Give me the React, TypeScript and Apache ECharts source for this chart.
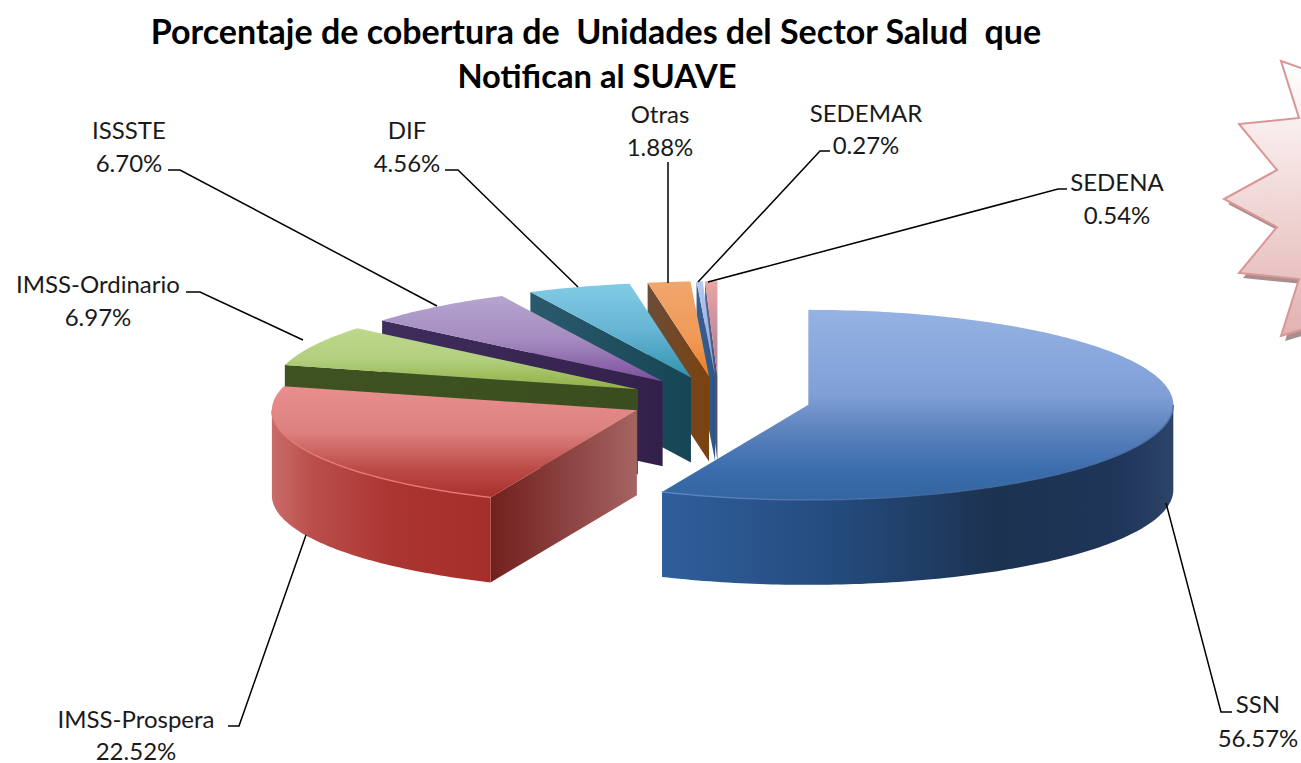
import React, { useEffect, useRef } from "react";
import * as echarts from "echarts";

const titleLines = ["Porcentaje de cobertura de  Unidades del Sector Salud  que", "Notifican al SUAVE"];
const categories = ["SSN", "IMSS-Prospera", "IMSS-Ordinario", "ISSSTE", "DIF", "Otras", "SEDEMAR", "SEDENA"];
const values = [56.57, 22.52, 6.97, 6.7, 4.56, 1.88, 0.27, 0.54];

// Drawing styles, one per slice
const topStops = [
  [[0, "#96b2e4"], [0.45, "#7f9fd6"], [0.62, "#5f84be"], [0.85, "#3a6cac"], [1, "#33659f"]],
  [[0, "#e88e8c"], [0.4, "#dd8280"], [0.75, "#bc4a47"], [1, "#a92f2b"]],
  [[0, "#bcd88c"], [0.5, "#b2d07f"], [1, "#8fb045"]],
  [[0, "#b5a5d0"], [0.5, "#a68cc0"], [1, "#7b4f9c"]],
  [[0, "#82cbe6"], [0.5, "#66b5d3"], [1, "#2f93b0"]],
  [[0, "#f0a66c"], [0.6, "#f09a58"], [1, "#ee7d24"]],
  [[0, "#b4ccf2"], [1, "#7f9fd8"]],
  [[0, "#e8a5a2"], [1, "#a87a9a"]],
];
const wallStops = [
  [[0, "#2f5f9c"], [0.35, "#244a7c"], [0.65, "#1c3250"], [0.9, "#20365a"], [1, "#2c4468"]],
  [[0, "#c96c6a"], [0.2, "#b94d4a"], [0.55, "#ab3531"], [1, "#a62e2a"]],
];
const cutStops = [
  null,
  [[0, "#72201e"], [0.4, "#853a38"], [1, "#a56462"]],
  [[0, "#3f5322"], [1, "#3a4d1e"]],
  [[0, "#3f2d5c"], [1, "#33204a"]],
  [[0, "#2a5a6c"], [1, "#164555"]],
  [[0, "#6b4c38"], [1, "#7c420e"]],
  [[0, "#3a5f90"], [1, "#2f5588"]],
  [[0, "#66608a"], [1, "#4a5268"]],
];
const rimStops = [
  [[0, "#5e86c4"], [0.5, "#3f659c"], [1, "#4a6ea6"]],
  [[0, "#e67a76"], [1, "#e67a76"]],
];

// Leader lines and label anchors
const leaderPaths = [
  [[1166, 503], [1221, 712], [1232, 712]],
  [[306, 535], [239, 726], [228, 726]],
  [[303, 340], [200, 292], [186, 292]],
  [[437, 306], [180, 170], [168, 170]],
  [[578, 287], [458, 170], [445, 170]],
  [[668, 283], [668, 162]],
  [[698, 282], [820, 151], [830, 151]],
  [[708, 282], [1058, 189], [1067, 189]],
];
const labelAnchors = [
  [1258, 703, 737],
  [136, 718, 750],
  [98, 283, 316],
  [129, 129, 162],
  [407, 129, 162],
  [660, 113, 146],
  [866, 112, 144],
  [1117, 181, 214],
];

const CX = 719;
const CY = 400;
const RX = 365;
const RY = 95;
const DEPTH = 85;
const EXPLODE = 0.25;
const FONT = "Lato";

const total = values.reduce((a, b) => a + b, 0);
const rad = (d: number) => (d * Math.PI) / 180;

function sliceGeometry(i: number) {
  let start = 0;
  for (let k = 0; k < i; k++) start += (values[k] / total) * 360;
  const end = start + (values[i] / total) * 360;
  const mid = rad((start + end) / 2);
  const ax = CX + EXPLODE * RX * Math.sin(mid);
  const ay = CY - EXPLODE * RY * Math.cos(mid);
  const pt = (deg: number, drop = 0) => [ax + RX * Math.sin(rad(deg)), ay - RY * Math.cos(rad(deg)) + drop];
  return { start, end, ax, ay, pt };
}

function arc(pt: (d: number, drop?: number) => number[], a: number, b: number, drop = 0) {
  const n = Math.max(2, Math.ceil(Math.abs(b - a)));
  const out: number[][] = [];
  for (let j = 0; j <= n; j++) out.push(pt(a + ((b - a) * j) / n, drop));
  return out;
}

const grad = (x2: number, y2: number, stops: any) =>
  new echarts.graphic.LinearGradient(0, 0, x2, y2, stops.map((s: any) => ({ offset: s[0], color: s[1] })));

function renderSlice(params: any) {
  const i = values.length - 1 - params.dataIndex;
  const { start, end, ax, ay, pt } = sliceGeometry(i);
  const children: any[] = [];

  // cut face on the start edge, only when it faces the viewer
  if (cutStops[i]) {
    const p = pt(start);
    children.push({
      type: "polygon",
      shape: { points: [p, [ax, ay], [ax, ay + DEPTH], [p[0], p[1] + DEPTH]] },
      style: { fill: grad(1, 0, cutStops[i]) },
    });
  }
  // outer wall, the front half of the rim
  const from = Math.max(start, 90);
  const to = Math.min(end, 270);
  if (to > from) {
    const topArc = arc(pt, from, to);
    const botArc = arc(pt, to, from, DEPTH);
    children.push({
      type: "polygon",
      shape: { points: [...topArc, ...botArc] },
      style: { fill: grad(1, 0, wallStops[i]) },
    });
  }
  // top face
  children.push({
    type: "polygon",
    shape: { points: [[ax, ay], ...arc(pt, start, end)] },
    style: { fill: grad(0, 1, topStops[i]) },
  });
  // lit rim
  if (to > from) {
    children.push({
      type: "polyline",
      shape: { points: arc(pt, from, to) },
      style: { stroke: grad(1, 0, rimStops[i]), lineWidth: 1.5, fill: "none", opacity: 0.9 },
    });
  }
  return { type: "group", children };
}

function renderLabel(params: any) {
  const i = params.dataIndex;
  const [x, y1, y2] = labelAnchors[i];
  const textStyle = { fontFamily: FONT, fontSize: 24, fill: "#1a1a1a", align: "center", verticalAlign: "middle" };
  return {
    type: "group",
    children: [
      { type: "polyline", shape: { points: leaderPaths[i] }, style: { stroke: "#000", lineWidth: 1.5, fill: "none" } },
      { type: "text", style: { ...textStyle, x, y: y1, text: categories[i] } },
      { type: "text", style: { ...textStyle, x, y: y2, text: `${values[i].toFixed(2)}%` } },
    ],
  };
}

const starPoints = [
  [1281, 61], [1350, 85], [1420, 150], [1420, 260], [1350, 315], [1281, 336], [1299, 279], [1239, 273],
  [1277, 227], [1224, 199], [1277, 170], [1239, 124], [1299, 118],
];

export default function App() {
  const ref = useRef<HTMLDivElement>(null);
  useEffect(() => {
    document.body.style.margin = "0";
    const chart = echarts.init(ref.current!, null, { renderer: "svg" });
    chart.setOption({
      animation: false,
      backgroundColor: "#ffffff",
      graphic: [
        {
          type: "polygon",
          z: 1,
          x: 4,
          y: 5,
          shape: { points: starPoints },
          style: { fill: "#a98e8e", stroke: "none" },
        },
        {
          type: "polygon",
          z: 2,
          shape: { points: starPoints },
          style: {
            fill: new echarts.graphic.LinearGradient(0, 0, 0, 1, [
              { offset: 0, color: "#ffffff" },
              { offset: 1, color: "#e2b2b1" },
            ]),
            stroke: "#da9694",
            lineWidth: 2,
          },
        },
        {
          type: "text",
          z: 5,
          style: { x: 596, y: 30, text: titleLines[0], fontFamily: FONT, fontSize: 34, fontWeight: "bold", fill: "#000", align: "center", verticalAlign: "middle" },
        },
        {
          type: "text",
          z: 5,
          style: { x: 597, y: 75, text: titleLines[1], fontFamily: FONT, fontSize: 32.7, fontWeight: "bold", fill: "#000", align: "center", verticalAlign: "middle" },
        },
      ],
      series: [
        {
          type: "custom",
          coordinateSystem: "none",
          silent: true,
          z: 3,
          data: values.map((v) => [v]),
          renderItem: renderSlice,
        },
        {
          type: "custom",
          coordinateSystem: "none",
          silent: true,
          z: 4,
          data: values.map((v) => [v]),
          renderItem: renderLabel,
        },
      ],
    });
    return () => chart.dispose();
  }, []);
  return <div ref={ref} style={{ width: 1301, height: 763, position: "absolute", left: 0, top: 0 }} />;
}
